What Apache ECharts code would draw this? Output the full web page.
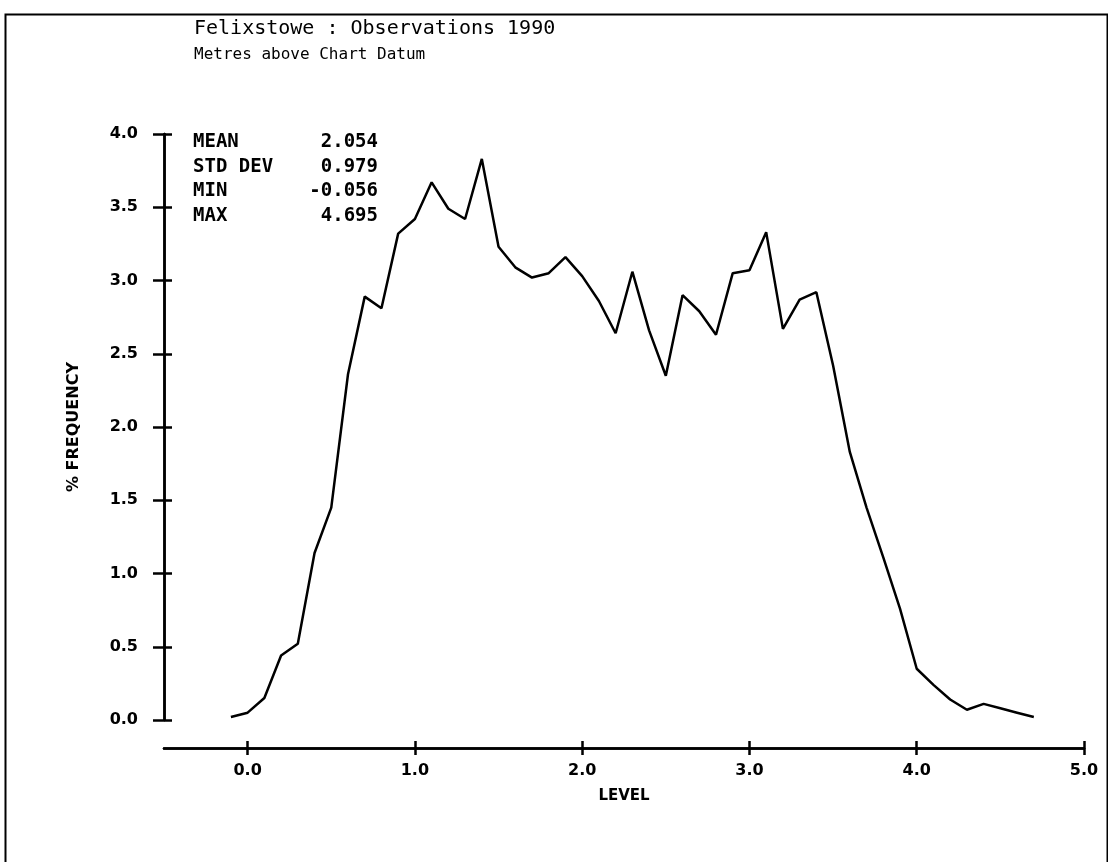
<!DOCTYPE html>
<html>
<head>
<meta charset="utf-8">
<script src="https://cdn.jsdelivr.net/npm/echarts@6/dist/echarts.min.js"></script>
<style>
html,body{margin:0;padding:0;background:#fff;}
#chart{width:1108px;height:862px;}
</style>
</head>
<body>
<div id="chart"></div>
<script>
// ---- data ----
const levels = [-0.1, 0.0, 0.1, 0.2, 0.3, 0.4, 0.5, 0.6, 0.7, 0.8, 0.9,
  1.0, 1.1, 1.2, 1.3, 1.4, 1.5, 1.6, 1.7, 1.8, 1.9,
  2.0, 2.1, 2.2, 2.3, 2.4, 2.5, 2.6, 2.7, 2.8, 2.9,
  3.0, 3.1, 3.2, 3.3, 3.4, 3.5, 3.6, 3.7, 3.8, 3.9,
  4.0, 4.1, 4.2, 4.3, 4.4, 4.5, 4.6, 4.7];
const frequency = [0.02, 0.05, 0.15, 0.44, 0.52, 1.14, 1.45, 2.36, 2.89, 2.81, 3.32,
  3.42, 3.67, 3.49, 3.42, 3.83, 3.23, 3.09, 3.02, 3.05, 3.16,
  3.03, 2.86, 2.64, 3.06, 2.66, 2.35, 2.90, 2.79, 2.63, 3.05,
  3.07, 3.33, 2.67, 2.87, 2.92, 2.42, 1.83, 1.45, 1.11, 0.76,
  0.35, 0.24, 0.14, 0.07, 0.11, 0.08, 0.05, 0.02];
const xTicks = [0, 1, 2, 3, 4, 5];
const statNames = ['MEAN', 'STD DEV', 'MIN', 'MAX'];
const statValues = ['2.054', '0.979', '-0.056', '4.695'];
const titleText = 'Felixstowe : Observations 1990';
const subtitleText = 'Metres above Chart Datum';
const xName = 'LEVEL';
const yName = '% FREQUENCY';

// ---- chart ----
const chart = echarts.init(document.getElementById('chart'), null, {renderer: 'canvas'});
const points = levels.map((l, i) => [l, frequency[i]]);
const mono = '"DejaVu Sans Mono", monospace';
const sans = '"DejaVu Sans", sans-serif';
const lw = 2.5;

const statGraphics = [];
statNames.forEach((n, i) => {
  statGraphics.push({type: 'text', left: 193, top: 133 + i * 24.5,
    style: {text: n, font: 'bold 19px ' + mono, fill: '#000'}});
  statGraphics.push({type: 'text', right: 1108 - 378, top: 133 + i * 24.5,
    style: {text: statValues[i], font: 'bold 19px ' + mono, fill: '#000', textAlign: 'right'}});
});

const yCommon = {type: 'value', min: 0, max: 4, interval: 0.5, position: 'left',
  splitLine: {show: false},
  axisLine: {show: true, onZero: false, lineStyle: {color: '#000', width: lw}}};
const xCommon = {type: 'value', min: -0.5, max: 5, position: 'bottom', offset: 28,
  splitLine: {show: false},
  axisLine: {show: true, onZero: false, lineStyle: {color: '#000', width: lw}}};

chart.setOption({
  animation: false,
  backgroundColor: '#fff',
  title: {
    text: titleText, subtext: subtitleText, left: 189, top: 14, itemGap: 8,
    textStyle: {fontFamily: mono, fontWeight: 'normal', fontSize: 20, color: '#000'},
    subtextStyle: {fontFamily: mono, fontWeight: 'normal', fontSize: 16, color: '#000'}
  },
  grid: {left: 164, right: 24, top: 134, bottom: 142, containLabel: false},
  xAxis: [
    Object.assign({}, xCommon, {
      name: xName, nameLocation: 'middle', nameGap: 41,
      nameTextStyle: {fontFamily: sans, fontWeight: 'bold', fontSize: 15, color: '#000'},
      axisTick: {show: true, inside: false, length: 7, customValues: xTicks, lineStyle: {color: '#000', width: lw}},
      axisLabel: {show: true, customValues: xTicks, margin: 15, formatter: v => Number(v).toFixed(1),
        fontFamily: sans, fontWeight: 'bold', fontSize: 16, color: '#000'}
    }),
    Object.assign({}, xCommon, {
      axisTick: {show: true, inside: true, length: 7, customValues: xTicks, lineStyle: {color: '#000', width: lw}},
      axisLabel: {show: false}
    })
  ],
  yAxis: [
    Object.assign({}, yCommon, {
      name: yName, nameLocation: 'middle', nameGap: 82, nameRotate: 90,
      nameTextStyle: {fontFamily: sans, fontWeight: 'bold', fontSize: 16, color: '#000'},
      axisTick: {show: true, inside: false, length: 11, lineStyle: {color: '#000', width: lw}},
      axisLabel: {show: true, margin: 26, formatter: v => Number(v).toFixed(1),
        fontFamily: sans, fontWeight: 'bold', fontSize: 16, color: '#000'}
    }),
    Object.assign({}, yCommon, {
      axisTick: {show: true, inside: true, length: 8, lineStyle: {color: '#000', width: lw}},
      axisLabel: {show: false}
    })
  ],
  graphic: [
    {type: 'rect', left: 3, top: 12, shape: {width: 1102, height: 900},
      style: {fill: 'none', stroke: '#000', lineWidth: 2}, silent: true}
  ].concat(statGraphics),
  series: [{
    type: 'line', data: points, xAxisIndex: 0, yAxisIndex: 0,
    showSymbol: false, symbol: 'none', smooth: false,
    lineStyle: {color: '#000', width: 2.5}
  }]
});
</script>
</body>
</html>
